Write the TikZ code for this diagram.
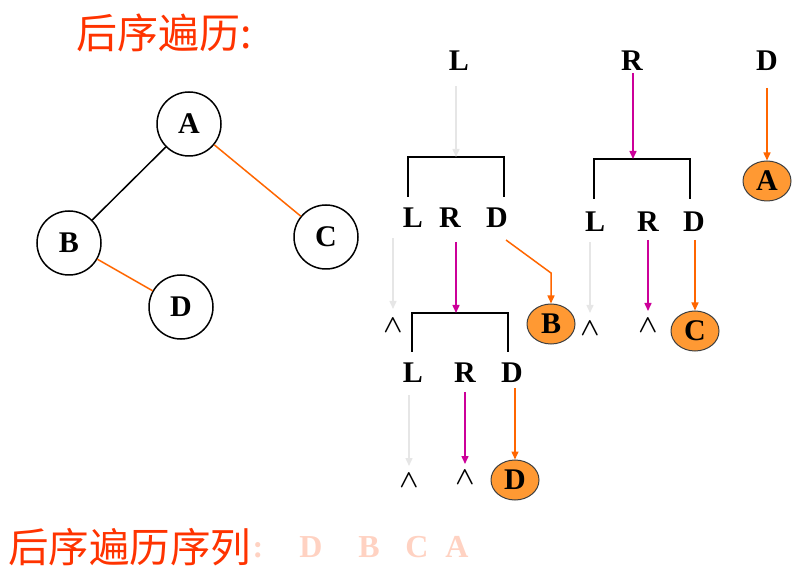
\documentclass[tikz,border=0pt]{standalone}
\usepackage{fontspec}
\setmainfont{Liberation Serif}
\newfontfamily\cjk{Noto Sans CJK SC}
\usetikzlibrary{arrows.meta,shapes.geometric}
\definecolor{titlered}{HTML}{FF3300}
\definecolor{edgeorange}{HTML}{FF6600}
\definecolor{fillorange}{HTML}{FF9933}
\definecolor{pathgray}{HTML}{E6E6E6}
\definecolor{pathmag}{HTML}{CC0099}
\definecolor{fadeorange}{HTML}{FFD2C2}
\begin{document}
\begin{tikzpicture}[x=1pt,y=-1pt,
  lbl/.style={font=\fontsize{30}{32}\selectfont\bfseries, inner sep=0pt},
  nil/.style={font=\fontsize{29}{31}\selectfont\boldmath, inner sep=0pt},
  tnode/.style={circle,draw,line width=1.5pt,minimum size=64pt,inner sep=0pt,font=\fontsize{30}{32}\selectfont\bfseries},
  res/.style={ellipse,draw=black!75,fill=fillorange,line width=1pt,minimum width=48pt,minimum height=40pt,inner sep=0pt,font=\fontsize{30}{32}\selectfont\bfseries},
  bracket/.style={line width=2pt},
  garrow/.style={draw=pathgray,line width=1.5pt,-{Triangle[width=7pt,length=8pt]}},
  marrow/.style={draw=pathmag,line width=1.5pt,-{Triangle[width=7pt,length=8pt]}},
  oarrow/.style={draw=edgeorange,line width=1.5pt,-{Triangle[width=7pt,length=8pt]}},
  tedge/.style={line width=1.5pt},
  oedge/.style={line width=1.5pt,draw=edgeorange},
  fade/.style={text=fadeorange,inner sep=0pt,font=\fontsize{32}{34}\selectfont\bfseries}
]
\useasboundingbox (0,0) rectangle (793,577);

% title
\node[anchor=west,inner sep=0pt,text=titlered,font=\cjk\fontsize{41}{44}\selectfont] (title) at (76,33) {后序遍历:};

% tree
\node[tnode] (A) at (189,124) {A};
\node[tnode] (B) at (69,243) {B};
\node[tnode] (C) at (326,237) {C};
\node[tnode] (D) at (181,307) {D};
\draw[tedge] (A) -- (B);
\draw[oedge] (A) -- (C);
\draw[oedge] (B) -- (D);

% top level labels
\node[lbl] (L0) at (459,61) {L};
\node[lbl] (R0) at (632,61) {R};
\node[lbl] (D0) at (767,61) {D};

% bracket 1 (left subtree B)
\coordinate (b1l) at (408,197);
\coordinate (b1r) at (504,197);
\coordinate (b1m) at (456,157);
\draw[bracket] (b1l) -- (408,157) -- (504,157) -- (b1r);
\coordinate (s0L) at (456,86);
\draw[garrow] (s0L) -- (b1m);

\node[lbl] (L1) at (413,218) {L};
\node[lbl] (R1) at (450,218) {R};
\node[lbl] (D1) at (497,218) {D};

\node[nil] (n1) at (393,326) {$\wedge$};
\coordinate (s1L) at (393,238);
\coordinate (e1L) at (393,309);
\draw[garrow] (s1L) -- (e1L);

\node[res] (resB) at (551,324) {B};
\coordinate (s1D) at (506,240);
\draw[oarrow] (s1D) -- (551,273) -- (resB.north);

% bracket 2 (subtree D)
\coordinate (b2l) at (412,352);
\coordinate (b2r) at (508,352);
\coordinate (b2m) at (456,313);
\draw[bracket] (b2l) -- (412,313) -- (508,313) -- (b2r);
\coordinate (s1R) at (456,242);
\draw[marrow] (s1R) -- (b2m);

\node[lbl] (L2) at (413,373) {L};
\node[lbl] (R2) at (465,373) {R};
\node[lbl] (D2) at (512,373) {D};

\node[nil] (n2) at (409,481) {$\wedge$};
\node[nil] (n3) at (465,478) {$\wedge$};
\node[res] (resD) at (515,480) {D};
\coordinate (s2L) at (409,395);
\coordinate (s2R) at (465,392);
\coordinate (s2D) at (515,388);
\coordinate (e2L) at (409,466);
\coordinate (e2R) at (465,464);
\draw[garrow] (s2L) -- (e2L);
\draw[marrow] (s2R) -- (e2R);
\draw[oarrow] (s2D) -- (resD.north);

% bracket 3 (right subtree C)
\coordinate (b3l) at (594,199);
\coordinate (b3r) at (690,199);
\coordinate (b3m) at (633,159);
\draw[bracket] (b3l) -- (594,159) -- (690,159) -- (b3r);
\coordinate (s0R) at (633,73);
\draw[marrow] (s0R) -- (b3m);

\node[lbl] (L3) at (595,222) {L};
\node[lbl] (R3) at (648,222) {R};
\node[lbl] (D3) at (694,222) {D};

\node[nil] (n4) at (590,329) {$\wedge$};
\node[nil] (n5) at (648,326) {$\wedge$};
\node[res] (resC) at (695,331) {C};
\coordinate (s3L) at (590,242);
\coordinate (s3R) at (648,240);
\coordinate (s3D) at (695,240);
\coordinate (e3L) at (590,313);
\coordinate (e3R) at (648,311);
\draw[garrow] (s3L) -- (e3L);
\draw[marrow] (s3R) -- (e3R);
\draw[oarrow] (s3D) -- (resC.north);

% root D
\node[res] (resA) at (767,181) {A};
\coordinate (s0D) at (767,88);
\draw[oarrow] (s0D) -- (resA.north);

% bottom sequence
\node[anchor=west,inner sep=0pt,text=titlered,font=\cjk\fontsize{40.5}{43}\selectfont] (seq) at (8,547) {后序遍历序列};
\node[fade] (colon) at (258,550) {:};
\node[fade] (fD) at (311,547) {D};
\node[fade] (fB) at (369,547) {B};
\node[fade] (fC) at (417,547) {C};
\node[fade] (fA) at (457,547) {A};
\end{tikzpicture}
\end{document}
